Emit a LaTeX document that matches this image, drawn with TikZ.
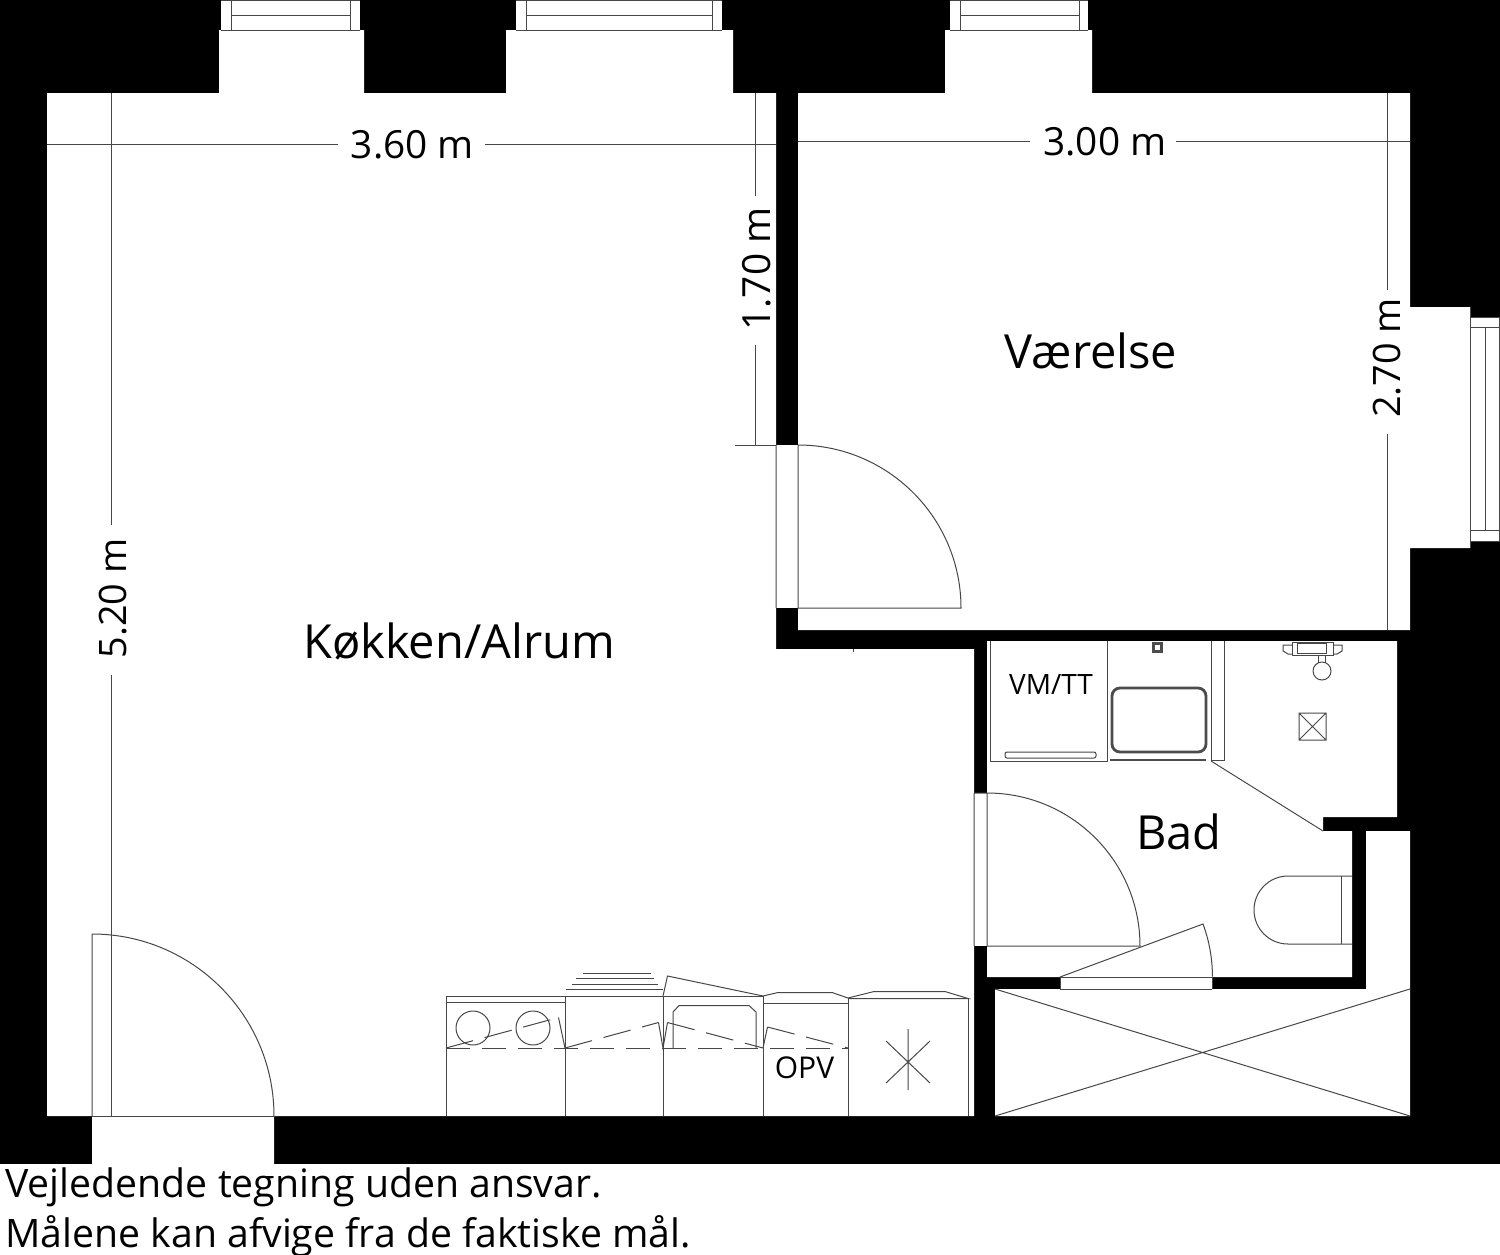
\documentclass[tikz,border=0pt]{standalone}
\usepackage{fontspec}
\setmainfont{Open Sans}
\tikzset{
  thin line/.style={draw=black!72,line width=0.5pt},
  room/.style={fill=white,draw=none},
  label/.style={inner sep=0pt,text=black},
  big/.style={label,font=\fontsize{23.5pt}{23.5pt}\selectfont},
  dim/.style={label,font=\fontsize{19.4pt}{19.4pt}\selectfont},
  dimv/.style={label,rotate=90,font=\fontsize{18.9pt}{18.9pt}\selectfont},
  small/.style={label,font=\fontsize{14pt}{14pt}\selectfont},
  foot/.style={label,anchor=base west,font=\fontsize{19.6pt}{19.6pt}\selectfont},
  fixture/.style={draw=black!70,line width=1.1pt},
}
\begin{document}
\begin{tikzpicture}[x=0.5pt,y=0.5pt]
\useasboundingbox (0,0) rectangle (1500,-1254);
\fill[white] (0,0) rectangle (1500,-1254);
\fill[black] (0,0) rectangle (1500,-1164);
% rooms
\fill[room] (47,-93)--(219,-93)--(219,-30)--(364,-30)--(364,-93)--(506,-93)--(506,-30)--(733,-30)--(733,-93)--(776,-93)--(776,-649)--(974,-649)--(974,-1116)--(274,-1116)--(274,-1164)--(92,-1164)--(92,-1116)--(47,-1116)--cycle;
\fill[room] (798,-93)--(945,-93)--(945,-30)--(1092,-30)--(1092,-93)--(1410,-93)--(1410,-307)--(1470,-307)--(1470,-548)--(1410,-548)--(1410,-630)--(798,-630)--cycle;
\fill[room] (987,-641)--(1397,-641)--(1397,-817)--(1323,-817)--(1323,-831)--(1352,-831)--(1352,-977)--(987,-977)--cycle;
\fill[room] (995,-989)--(1366,-989)--(1366,-831)--(1410,-831)--(1410,-1116)--(995,-1116)--cycle;
% door openings
\fill[room] (776,-445) rectangle (798,-608);
\fill[room] (974,-793) rectangle (987,-946);
\fill[room] (1060,-977) rectangle (1212,-989);
% windows
\foreach \a/\b/\c/\d in {221/231/350/360,516/526/712/722,950/960/1079/1088}{
  \fill[room] (\a,0) rectangle (\d,-30);
  \draw[thin line] (\a,-0.5)--(\d,-0.5) (\a,-30)--(\d,-30) (\b,0)--(\b,-30) (\c,0)--(\c,-30) (\b,-15)--(\c,-15);
}
\fill[room] (1470,-317) rectangle (1500,-541);
\draw[thin line] (1470,-307)--(1470,-548) (1470,-317)--(1500,-317) (1470,-327)--(1500,-327) (1470,-530)--(1500,-530) (1470,-541)--(1500,-541) (1485,-327)--(1485,-530) (1499.5,-317)--(1499.5,-541);
% doors
\draw[thin line] (776,-445)--(776,-608) (798,-445)--(798,-608) (798,-445) arc[start angle=90,end angle=0,radius=81.5pt]--(798,-608);
\draw[thin line] (735,-445)--(776,-445);
\draw[thin line] (92,-1116)--(92,-934) arc[start angle=90,end angle=0,radius=91pt];
\draw[thin line] (92,-1116)--(274,-1116);
\draw[thin line] (974,-793)--(974,-946) (987,-793)--(987,-946) (974,-793)--(987,-793) (987,-793) arc[start angle=90,end angle=0,radius=76.5pt]--(987,-946);
\draw[thin line] (1060,-977)--(1212,-977) (1060,-989)--(1212,-989) (1060,-977)--(1060,-989) (1212,-977)--(1212,-989);
\draw[thin line] (1060,-977)--(1203,-924) arc[start angle=20.3,end angle=0,radius=76pt];
% dimension lines
\draw[thin line] (47,-144)--(338,-144) (485,-144)--(776,-144);
\draw[thin line] (798,-141)--(1030,-141) (1176,-141)--(1410,-141);
\draw[thin line] (111,-93)--(111,-525) (111,-675)--(111,-1116);
\draw[thin line] (755,-93)--(755,-196) (755,-345)--(755,-445);
\draw[thin line] (1387,-93)--(1387,-290) (1387,-434)--(1387,-630);
\draw[thin line] (853,-649)--(853,-652);
% bath fixtures
\draw[thin line] (990,-641)--(990,-761)--(1107,-761)--(1107,-641);
\draw[thin line,rounded corners=1pt] (1005,-752) rectangle (1096,-758);
\draw[fixture,rounded corners=4pt,line width=1.4pt] (1112,-688) rectangle (1206,-752);
\draw[fixture] (1110,-760)--(1206,-760);
\draw[fixture] (1153.5,-643.5) rectangle (1161.5,-651.5);
\draw[thin line] (1211,-641)--(1211,-760)--(1224,-760)--(1224,-641);
\draw[thin line] (1211,-761)--(1323,-831);
\draw[thin line] (1292,-642) rectangle (1333,-655);
\draw[thin line] (1297,-643.5) rectangle (1326,-653);
\draw[thin line] (1292,-645)--(1283,-645)--(1283,-651)--(1288,-654)--(1292,-654);
\draw[thin line] (1333,-645)--(1342,-645)--(1342,-651)--(1337,-654)--(1333,-654);
\draw[thin line] (1318,-655)--(1318,-663) (1325,-655)--(1325,-663);
\draw[thin line] (1322,-671) circle[radius=4.5pt];
\draw[thin line] (1299,-713) rectangle (1326,-740) (1299,-713)--(1326,-740) (1299,-740)--(1326,-713);
\draw[thin line] (1352,-876)--(1288,-876) arc[start angle=90,end angle=270,radius=17pt]--(1352,-944);
\draw[thin line] (1341,-876)--(1341,-944);
% closet
\draw[thin line] (995,-989)--(1410,-1116) (995,-1116)--(1410,-989);
% kitchen units
\draw[thin line] (446,-1116)--(446,-996)--(763,-996) (446,-1002)--(565,-1002);
\foreach \x/\t in {565/996,663/996,763/996,848/998,968/998.5}{\draw[thin line] (\x,-1116)--(\x,-\t);}
\draw[thin line] (763,-996)--(778,-992.5)--(832,-992.5)--(848,-998)--(874,-991.5)--(945,-991.5)--(968,-998.5)--(848,-998.5);
\draw[thin line] (763,-1003)--(848,-1003);
\draw[thin line] (583,-973.5)--(651,-973.5) (576,-978.5)--(654,-978.5) (572,-984)--(658,-984) (566,-989)--(663,-989);
\draw[thin line] (663,-996)--(667.5,-976)--(763,-996);
\draw[thin line] (673,-1048)--(673,-1012)--(679,-1005.5)--(749,-1005.5)--(756,-1012)--(756,-1048);
\draw[thin line,dash pattern=on 12pt off 6pt] (446,-1048)--(848,-1048);
\draw[thin line,dash pattern=on 14pt off 6pt] (446,-1048)--(558.5,-1017.5);
\draw[thin line,dash pattern=on 14pt off 6pt] (565,-1048)--(658.5,-1022.5);
\draw[thin line,dash pattern=on 14pt off 6pt] (667.5,-1022.5)--(763,-1048);
\draw[thin line,dash pattern=on 14pt off 6pt] (767.5,-1027)--(848,-1048);
\draw[thin line] (558.5,-1017.5)--(565,-1048) (658.5,-1022.5)--(663,-1048)--(667.5,-1022.5) (763,-1048)--(767.5,-1027);
\draw[thin line] (473,-1028) circle[radius=8.5pt] (533,-1028) circle[radius=8.5pt];
\draw[thin line] (908,-1029)--(908,-1090) (886,-1041)--(930,-1083) (886,-1083)--(930,-1041);
% labels
\node[dim] (d360) at (412.5,-145) {3.60 m};
\node[dim] (d300) at (1105,-142) {3.00 m};
\node[dim,rotate=90] (d170) at (757,-269) {1.70 m};
\node[dimv] (d270) at (1387,-358) {2.70 m};
\node[dimv] (d520) at (113,-598.5) {5.20 m};
\node[big] (vaer) at (1091,-350.5) {Værelse};
\node[big] (kok) at (459,-641) {Køkken/Alrum};
\node[big] (bad) at (1179,-832) {Bad};
\node[small] (vm) at (1051,-684) {VM/TT};
\node[small,font=\fontsize{15pt}{15pt}\selectfont] (opv) at (804.5,-1068) {OPV};
\node[foot] (f1) at (5,-1197) {Vejledende tegning uden ansvar.};
\node[foot] (f2) at (5,-1247) {Målene kan afvige fra de faktiske mål.};
\end{tikzpicture}
\end{document}
